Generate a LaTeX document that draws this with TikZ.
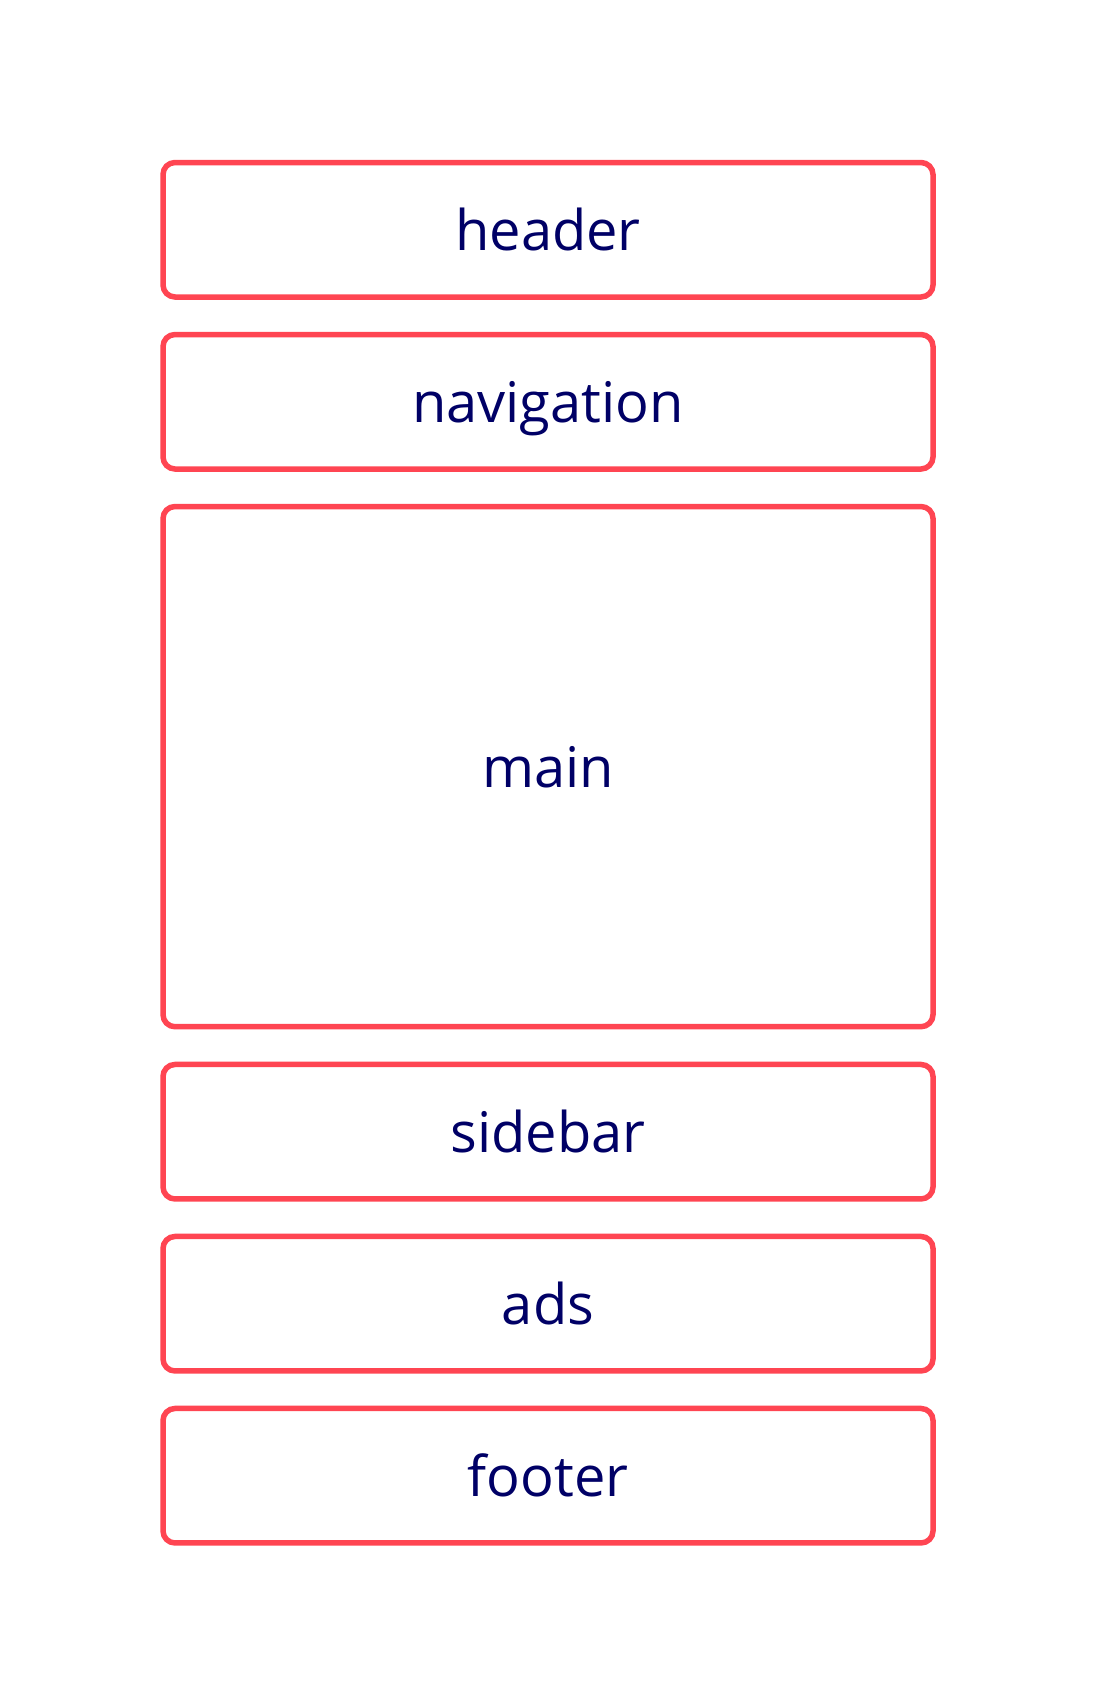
\documentclass[tikz,border=0pt]{standalone}
\usepackage{fontspec}
\setmainfont{Open Sans}
\definecolor{boxred}{HTML}{FF4552}
\definecolor{txtnavy}{HTML}{000066}
\begin{document}
\begin{tikzpicture}[x=1pt,y=-1pt,
  box/.style={draw=boxred, line width=5.5pt, rounded corners=12pt, rectangle,
    minimum width=770pt, inner sep=0pt, text=txtnavy,
    font=\fontsize{56}{58}\selectfont, text height=42pt, text depth=0pt},
  small/.style={box, minimum height=134.5pt},
  big/.style={box, minimum height=520.2pt}]
\useasboundingbox (0,0) rectangle (1096,1705);
\node[small] (header) at (548,229.75) {header};
\node[small] (navigation) at (548,401.75) {navigation};
\node[big] (main) at (548,766.6) {main};
\node[small] (sidebar) at (548,1131.7) {sidebar};
\node[small] (ads) at (548,1303.7) {ads};
\node[small] (footer) at (548,1475.7) {footer};
\end{tikzpicture}
\end{document}
